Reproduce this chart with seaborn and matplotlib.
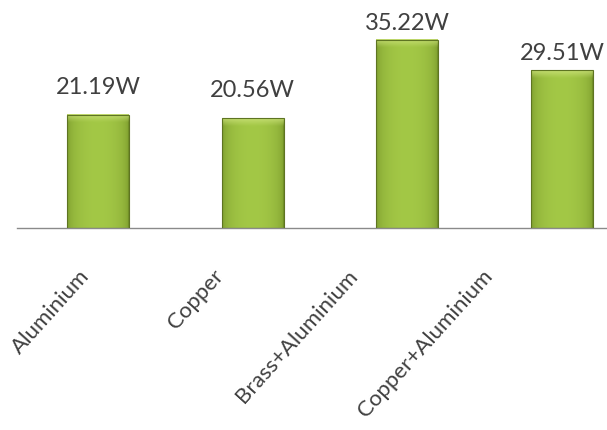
import numpy as np
import pandas as pd
import matplotlib
matplotlib.use("Agg")
import matplotlib.pyplot as plt
import seaborn as sns
from matplotlib.colors import to_rgb
from matplotlib.transforms import ScaledTranslation

# Data
materials = ["Aluminium", "Copper", "Brass+Aluminium", "Copper+Aluminium"]
power_w = [21.19, 20.56, 35.22, 29.51]
value_labels = ["21.19W", "20.56W", "35.22W", "29.51W"]

sns.set_theme(style="white")
plt.rcParams["font.family"] = ["Lato", "DejaVu Sans"]

DPI = 100
fig = plt.figure(figsize=(6.07, 4.30), dpi=DPI)
fig.patch.set_facecolor("white")
ax = fig.add_axes([17 / 607, 202 / 430, 590 / 607, 228 / 430])

df = pd.DataFrame({"material": materials, "power": power_w})
sns.barplot(data=df, x="material", y="power", color="#9DC23C", width=0.4,
            ax=ax, edgecolor="#5E7422", linewidth=0.8, saturation=1)

y_top = 42.7
px_per_unit = 228 / y_top

# Shaded (cylinder-like) fill with a light bevel on top of each bar
dark = np.array(to_rgb("#6F8C25"))
light = np.array(to_rgb("#A3C846"))
hilite = np.array(to_rgb("#CDE37C"))
for patch in ax.patches:
    x0, w, h = patch.get_x(), patch.get_width(), patch.get_height()
    nx, ny = 80, 300
    t = np.linspace(0, 1, nx)
    prof = np.clip(np.sin(np.pi * t), 0, 1) ** 0.3
    row = dark + (light - dark) * prof[:, None]
    img = np.tile(row[None, :, :], (ny, 1, 1))
    yy = np.linspace(0, h, ny)
    bevel = 8 / px_per_unit
    f = np.clip((yy - (h - bevel)) / bevel, 0, 1) ** 1.1
    img = img * (1 - 0.8 * f[:, None, None]) + hilite * 0.8 * f[:, None, None]
    ax.imshow(img, extent=(x0, x0 + w, 0, h), origin="lower", aspect="auto",
              zorder=2, interpolation="bilinear")
    patch.set_facecolor("none")
    patch.set_zorder(3)

# Value labels above the bars
label_gap_px = [21, 21, 10, 10]
for i, (v, txt) in enumerate(zip(power_w, value_labels)):
    ax.annotate(txt, xy=(i, v), xytext=(0, label_gap_px[i] * 72 / DPI),
                textcoords="offset points", ha="center", va="baseline",
                fontsize=17, color="#404040", annotation_clip=False)

ax.set_xlim(-0.523, 3.29)
ax.set_ylim(0, y_top)
ax.set_xlabel("")
ax.set_ylabel("")
ax.set_yticks([])
for side in ["top", "left", "right"]:
    ax.spines[side].set_visible(False)
ax.spines["bottom"].set_color("#8A8A8A")
ax.spines["bottom"].set_linewidth(1.0)

ax.set_xticks(range(len(materials)))
ax.set_xticklabels(materials, rotation=48, ha="right", va="center",
                   rotation_mode="anchor", fontsize=16, color="#404040")
ax.tick_params(axis="x", length=0, pad=32)
for i, lab in enumerate(ax.get_xticklabels()):
    dx = (-12 - 20.5 * i) / DPI
    lab.set_transform(lab.get_transform() + ScaledTranslation(dx, 0, fig.dpi_scale_trans))

fig.savefig("out.png", dpi=DPI, facecolor="white")
